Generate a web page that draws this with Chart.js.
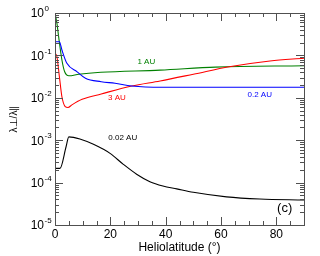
<!DOCTYPE html>
<html>
<head>
<meta charset="utf-8">
<script src="https://cdn.jsdelivr.net/npm/chart.js@4.4.1/dist/chart.umd.min.js"></script>
<style>
  html, body { margin: 0; padding: 0; background: #fff; }
</style>
</head>
<body>
<canvas id="chart" width="320" height="256"></canvas>
<script>
// --- data (heliolatitude in degrees, ratio λ⊥/λ∥) ---
const lat1AU = [0, 0.7, 1.3, 2.5, 3.5, 5, 8.6, 16.6, 38, 58, 90];
const val1AU = [1.0, 0.57, 0.28, 0.078, 0.041, 0.033, 0.036, 0.040, 0.045, 0.053, 0.057];

const lat02AU = [0, 1.6, 2.5, 4.3, 8, 11, 16.7, 21.7, 27.7, 38.5, 90];
const val02AU = [0.21, 0.21, 0.134, 0.065, 0.041, 0.029, 0.024, 0.022, 0.019, 0.0177, 0.0177];

const lat3AU = [0, 0.7, 1.6, 2.5, 3.7, 4.7, 6.1, 9.8, 16.7, 27.7, 38, 50, 63, 77.7, 90];
const val3AU = [0.112, 0.093, 0.031, 0.0106, 0.0062, 0.0059, 0.0068, 0.0092, 0.0123, 0.019, 0.025, 0.036, 0.054, 0.074, 0.086];

const lat002AU = [0, 1.8, 4, 5, 9, 13.9, 19.9, 24.7, 29.5, 34.3, 39, 44, 50, 62, 74, 90];
const val002AU = [2.17e-4, 2.17e-4, 7.0e-4, 1.2e-3, 1.07e-3, 8.0e-4, 4.9e-4, 2.7e-4, 1.58e-4, 1.05e-4, 8.3e-5, 7.1e-5, 5.9e-5, 4.6e-5, 4.1e-5, 3.9e-5];

const xTicks = [0, 20, 40, 60, 80];
const yExponents = [0, -1, -2, -3, -4, -5];

// curve labels, placed in data coordinates
const curveLabels = [
    { text: '1 AU',    x: 33,   y: 0.070,  color: '#008000' },
    { text: '3 AU',    x: 22.4, y: 0.0099, color: '#ff0000' },
    { text: '0.2 AU',  x: 74,   y: 0.0116, color: '#0000ff' },
    { text: '0.02 AU', x: 24.5, y: 1.12e-3, color: '#000000' }
];

const FONT = '"Liberation Sans", Arial, sans-serif';
const AXIS_COLOR = '#505050';

const toPoints = (xs, ys) => xs.map((x, i) => ({ x: x, y: ys[i] }));

const lineSet = (data, color) => ({
    data: data,
    borderColor: color,
    borderWidth: 1.1,
    pointRadius: 0,
    showLine: true,
    fill: false,
    cubicInterpolationMode: 'monotone'
});

// inward ticks, frame, exponent labels and curve annotations
const decorations = {
    id: 'decorations',
    afterDatasetsDraw(chart) {
        const { ctx, chartArea: a, scales: { x, y } } = chart;
        ctx.save();
        ctx.strokeStyle = AXIS_COLOR;
        ctx.lineWidth = 1;

        // frame
        ctx.strokeRect(Math.round(a.left) + 0.5, Math.round(a.top) + 0.5,
                       Math.round(a.right - a.left), Math.round(a.bottom - a.top));

        ctx.beginPath();
        // x ticks every 5 degrees, top and bottom
        for (let v = 0; v <= 90; v += 5) {
            const px = Math.round(x.getPixelForValue(v)) + 0.5;
            const len = v % 20 === 0 ? 8 : 4;
            ctx.moveTo(px, a.bottom); ctx.lineTo(px, a.bottom - len);
            ctx.moveTo(px, a.top);    ctx.lineTo(px, a.top + len);
        }
        // y ticks: majors at powers of ten, minors 2..9
        for (let e = -5; e <= 0; e++) {
            for (let k = 1; k <= 9; k++) {
                const v = k * Math.pow(10, e);
                if (v > 1) break;
                const py = Math.round(y.getPixelForValue(v)) + 0.5;
                const len = k === 1 ? 8 : 4;
                ctx.moveTo(a.left, py);  ctx.lineTo(a.left + len, py);
                ctx.moveTo(a.right, py); ctx.lineTo(a.right - len, py);
            }
        }
        ctx.stroke();

        // y tick labels: 10 with superscript exponent
        ctx.fillStyle = '#000';
        yExponents.forEach(e => {
            const py = y.getPixelForValue(Math.pow(10, e));
            ctx.font = '12px ' + FONT;
            ctx.textAlign = 'right';
            ctx.textBaseline = 'middle';
            ctx.fillText('10', 44, py + 1);
            ctx.font = '8px ' + FONT;
            ctx.textAlign = 'left';
            ctx.fillText(String(e), 44.5, py - 4);
        });

        // curve labels
        ctx.font = '8px ' + FONT;
        ctx.textAlign = 'center';
        ctx.textBaseline = 'middle';
        curveLabels.forEach(l => {
            ctx.fillStyle = l.color;
            ctx.fillText(l.text, x.getPixelForValue(l.x), y.getPixelForValue(l.y));
        });

        // panel tag
        ctx.fillStyle = '#000';
        ctx.font = '13px ' + FONT;
        ctx.fillText('(c)', x.getPixelForValue(83), y.getPixelForValue(2.5e-5));
        ctx.restore();
    }
};

new Chart(document.getElementById('chart'), {
    type: 'scatter',
    data: {
        datasets: [
            lineSet(toPoints(lat002AU, val002AU), '#000000'),
            lineSet(toPoints(lat02AU, val02AU), '#0000ff'),
            lineSet(toPoints(lat3AU, val3AU), '#ff0000'),
            lineSet(toPoints(lat1AU, val1AU), '#008000')
        ]
    },
    options: {
        responsive: false,
        animation: false,
        layout: { padding: { left: 0, right: 16, top: 13, bottom: 0 } },
        plugins: { legend: { display: false }, tooltip: { enabled: false } },
        scales: {
            x: {
                type: 'linear', min: 0, max: 90,
                afterBuildTicks: s => { s.ticks = xTicks.map(v => ({ value: v })); },
                afterFit: s => { s.height = 31; },
                grid: { display: false, drawTicks: false },
                border: { display: false },
                ticks: { font: { family: FONT, size: 12 }, color: '#000', padding: 2, maxRotation: 0 },
                title: {
                    display: true, text: 'Heliolatitude (°)', color: '#000',
                    font: { family: FONT, size: 12 }, padding: { top: 0, bottom: 1 }
                }
            },
            y: {
                type: 'logarithmic', min: 1e-5, max: 1,
                afterBuildTicks: s => { s.ticks = yExponents.map(e => ({ value: Math.pow(10, e) })); },
                afterFit: s => { s.width = 55; },
                grid: { display: false, drawTicks: false },
                border: { display: false },
                ticks: { display: false },
                title: {
                    display: true, text: 'λ⊥/λ∥', color: '#000',
                    font: { family: FONT, size: 10 }, padding: { top: 8, bottom: 0 }
                }
            }
        }
    },
    plugins: [decorations]
});
</script>
</body>
</html>
